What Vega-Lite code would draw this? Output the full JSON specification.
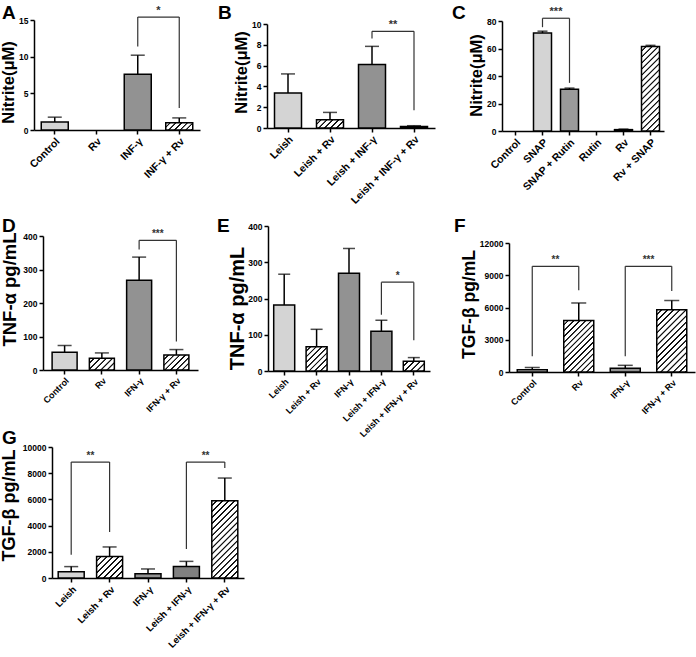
{
"$schema": "https://vega.github.io/schema/vega-lite/v6.json",
"padding": 0,
"autosize": {"type": "pad"},
"background": "white",
"columns": 3,
"spacing": 0,
"bounds": "flush",
"datasets": {
 "A": [{"g":"Control","v":1.1,"hi":1.75},{"g":"Rv","v":0},{"g":"INF-γ","v":7.6,"hi":10.2},{"g":"INF-γ + Rv","v":1.0,"hi":1.65}],
 "Ab": [{"a":"INF-γ","b":"INF-γ + Rv","y":15.4,"ya":11.4,"yb":3.0,"s":"*"}],
 "B": [{"g":"Leish","v":3.37,"hi":5.2},{"g":"Leish + Rv","v":0.8,"hi":1.5},{"g":"Leish + INF-γ","v":6.1,"hi":7.85},{"g":"Leish + INF-γ + Rv","v":0.15,"hi":0.22}],
 "Bb": [{"a":"Leish + INF-γ","b":"Leish + INF-γ + Rv","y":9.3,"ya":8.6,"yb":1.7,"s":"**"}],
 "C": [{"g":"Control","v":0},{"g":"SNAP","v":71.3,"hi":72.6},{"g":"SNAP + Rutin","v":30.3,"hi":31.2},{"g":"Rutin","v":0},{"g":"Rv","v":1.0,"hi":1.4},{"g":"Rv + SNAP","v":61.5,"hi":62.3}],
 "Cb": [{"a":"SNAP","b":"SNAP + Rutin","y":82,"ya":75.5,"yb":35,"s":"***"}],
 "D": [{"g":"Control","v":53,"hi":73},{"g":"Rv","v":35,"hi":51},{"g":"IFN-γ","v":268,"hi":337},{"g":"IFN-γ + Rv","v":45,"hi":61}],
 "Db": [{"a":"IFN-γ","b":"IFN-γ + Rv","y":387,"ya":360,"yb":85,"s":"***"}],
 "E": [{"g":"Leish","v":182,"hi":267},{"g":"Leish + Rv","v":67,"hi":115},{"g":"IFN-γ","v":270,"hi":338},{"g":"Leish + IFN-γ","v":110,"hi":140},{"g":"Leish + IFN-γ + Rv","v":27,"hi":37}],
 "Eb": [{"a":"Leish + IFN-γ","b":"Leish + IFN-γ + Rv","y":245,"ya":155,"yb":85,"s":"*"}],
 "F": [{"g":"Control","v":200,"hi":420},{"g":"Rv","v":4800,"hi":6420},{"g":"IFN-γ","v":350,"hi":620},{"g":"IFN-γ + Rv","v":5800,"hi":6650}],
 "Fb": [{"a":"Control","b":"Rv","y":9830,"ya":1460,"yb":7600,"s":"**"},{"a":"IFN-γ","b":"IFN-γ + Rv","y":9830,"ya":1460,"yb":7540,"s":"***"}],
 "G": [{"g":"Leish","v":480,"hi":870},{"g":"Leish + Rv","v":1650,"hi":2370},{"g":"IFN-γ","v":330,"hi":690},{"g":"Leish + IFN-γ","v":880,"hi":1270},{"g":"Leish + IFN-γ + Rv","v":5900,"hi":7630}],
 "Gb": [{"a":"Leish","b":"Leish + Rv","y":8850,"ya":1780,"yb":3510,"s":"**"},{"a":"Leish + IFN-γ","b":"Leish + IFN-γ + Rv","y":8850,"ya":2210,"yb":8400,"s":"**"}]
},
"concat": [
{
 "width": 232, "height": 200,
 "title": {"text": "A", "dx": 2, "offset": -23},
 "layer": [
  {"data": {"name": "A"}, "transform": [{"filter": "datum.v > 0"}],
   "mark": {"type": "bar", "width": 27, "stroke": "#000", "strokeWidth": 1.5},
   "encoding": {
    "x": {"field": "g", "type": "nominal", "scale": {"domain": ["Control","Rv","INF-γ","INF-γ + Rv"], "range": [34, 200], "paddingInner": 0, "paddingOuter": 0}, "axis": {"title": null, "labelAngle": -45, "labelFontSize": 10.5, "offset": -70}},
    "y": {"field": "v", "type": "quantitative", "scale": {"domain": [0, 15], "range": [130, 20], "nice": false, "zero": false}, "axis": {"title": "Nitrite(μM)", "values": [0,5,10,15], "tickCount": 10, "offset": -34, "titlePadding": 2, "titleY": 82}},
    "fill": {"condition": [
      {"test": "datum.g == 'INF-γ + Rv'", "value": {"gradient":"linear","x1":0,"y1":0,"x2":1.184,"y2":0.3216,"stops":[{"offset":0.1,"color":"#fff"},{"offset":0.1167,"color":"#111"},{"offset":0.15,"color":"#111"},{"offset":0.1667,"color":"#fff"},{"offset":0.2667,"color":"#fff"},{"offset":0.2833,"color":"#111"},{"offset":0.3167,"color":"#111"},{"offset":0.3333,"color":"#fff"},{"offset":0.4333,"color":"#fff"},{"offset":0.45,"color":"#111"},{"offset":0.4833,"color":"#111"},{"offset":0.5,"color":"#fff"},{"offset":0.6,"color":"#fff"},{"offset":0.6167,"color":"#111"},{"offset":0.65,"color":"#111"},{"offset":0.6667,"color":"#fff"},{"offset":0.7667,"color":"#fff"},{"offset":0.7833,"color":"#111"},{"offset":0.8167,"color":"#111"},{"offset":0.8333,"color":"#fff"},{"offset":0.9333,"color":"#fff"},{"offset":0.95,"color":"#111"},{"offset":0.9833,"color":"#111"},{"offset":1,"color":"#fff"}]}},
      {"test": "datum.g == 'INF-γ'", "value": "#929292"}], "value": "#d4d4d4"}
   }},
  {"data": {"name": "A"}, "transform": [{"filter": "isValid(datum.hi)"}], "mark": {"type": "rule", "color": "#000", "strokeWidth": 1.5}, "encoding": {"x": {"field": "g", "type": "nominal"}, "y": {"field": "v", "type": "quantitative"}, "y2": {"field": "hi"}}},
  {"data": {"name": "A"}, "transform": [{"filter": "isValid(datum.hi)"}], "mark": {"type": "tick", "color": "#000", "size": 14, "thickness": 1.5}, "encoding": {"x": {"field": "g", "type": "nominal"}, "y": {"field": "hi", "type": "quantitative"}}},
  {"data": {"name": "Ab"}, "mark": {"type": "rule", "color": "#333", "strokeWidth": 1.2}, "encoding": {"x": {"field": "a", "type": "nominal"}, "y": {"field": "ya", "type": "quantitative"}, "y2": {"field": "y"}}},
  {"data": {"name": "Ab"}, "mark": {"type": "rule", "color": "#333", "strokeWidth": 1.2}, "encoding": {"x": {"field": "b", "type": "nominal"}, "y": {"field": "yb", "type": "quantitative"}, "y2": {"field": "y"}}},
  {"data": {"name": "Ab"}, "mark": {"type": "rule", "color": "#333", "strokeWidth": 1.2}, "encoding": {"x": {"field": "a", "type": "nominal"}, "x2": {"field": "b"}, "y": {"field": "y", "type": "quantitative"}}},
  {"data": {"name": "Ab"}, "mark": {"type": "text", "color": "#333", "fontSize": 11, "fontWeight": "bold", "baseline": "alphabetic", "dy": -3}, "encoding": {"x": {"field": "a", "type": "nominal", "bandPosition": 1}, "y": {"field": "y", "type": "quantitative"}, "text": {"field": "s"}}}
 ]
},
{
 "width": 232, "height": 200,
 "title": {"text": "B", "dx": -14, "offset": -23},
 "layer": [
  {"data": {"name": "B"}, "transform": [{"filter": "datum.v > 0"}],
   "mark": {"type": "bar", "width": 27, "stroke": "#000", "strokeWidth": 1.5},
   "encoding": {
    "x": {"field": "g", "type": "nominal", "scale": {"domain": ["Leish","Leish + Rv","Leish + INF-γ","Leish + INF-γ + Rv"], "range": [35, 203], "paddingInner": 0, "paddingOuter": 0}, "axis": {"title": null, "labelAngle": -45, "labelFontSize": 10.5, "offset": -72}},
    "y": {"field": "v", "type": "quantitative", "scale": {"domain": [0, 10], "range": [128, 24], "nice": false, "zero": false}, "axis": {"title": "Nitrite(μM)", "values": [0,2,4,6,8,10], "tickCount": 10, "offset": -35, "titlePadding": 2, "titleY": 72}},
    "fill": {"condition": [
      {"test": "datum.g == 'Leish + Rv'", "value": {"gradient":"linear","x1":0,"y1":0,"x2":1.1948,"y2":0.3682,"stops":[{"offset":0.1,"color":"#fff"},{"offset":0.1167,"color":"#111"},{"offset":0.15,"color":"#111"},{"offset":0.1667,"color":"#fff"},{"offset":0.2667,"color":"#fff"},{"offset":0.2833,"color":"#111"},{"offset":0.3167,"color":"#111"},{"offset":0.3333,"color":"#fff"},{"offset":0.4333,"color":"#fff"},{"offset":0.45,"color":"#111"},{"offset":0.4833,"color":"#111"},{"offset":0.5,"color":"#fff"},{"offset":0.6,"color":"#fff"},{"offset":0.6167,"color":"#111"},{"offset":0.65,"color":"#111"},{"offset":0.6667,"color":"#fff"},{"offset":0.7667,"color":"#fff"},{"offset":0.7833,"color":"#111"},{"offset":0.8167,"color":"#111"},{"offset":0.8333,"color":"#fff"},{"offset":0.9333,"color":"#fff"},{"offset":0.95,"color":"#111"},{"offset":0.9833,"color":"#111"},{"offset":1,"color":"#fff"}]}},
      {"test": "datum.g == 'Leish + INF-γ'", "value": "#929292"},
      {"test": "datum.g == 'Leish + INF-γ + Rv'", "value": "#555"}], "value": "#d4d4d4"}
   }},
  {"data": {"name": "B"}, "transform": [{"filter": "isValid(datum.hi)"}], "mark": {"type": "rule", "color": "#000", "strokeWidth": 1.5}, "encoding": {"x": {"field": "g", "type": "nominal"}, "y": {"field": "v", "type": "quantitative"}, "y2": {"field": "hi"}}},
  {"data": {"name": "B"}, "transform": [{"filter": "isValid(datum.hi)"}], "mark": {"type": "tick", "color": "#000", "size": 14, "thickness": 1.5}, "encoding": {"x": {"field": "g", "type": "nominal"}, "y": {"field": "hi", "type": "quantitative"}}},
  {"data": {"name": "Bb"}, "mark": {"type": "rule", "color": "#333", "strokeWidth": 1.2}, "encoding": {"x": {"field": "a", "type": "nominal"}, "y": {"field": "ya", "type": "quantitative"}, "y2": {"field": "y"}}},
  {"data": {"name": "Bb"}, "mark": {"type": "rule", "color": "#333", "strokeWidth": 1.2}, "encoding": {"x": {"field": "b", "type": "nominal"}, "y": {"field": "yb", "type": "quantitative"}, "y2": {"field": "y"}}},
  {"data": {"name": "Bb"}, "mark": {"type": "rule", "color": "#333", "strokeWidth": 1.2}, "encoding": {"x": {"field": "a", "type": "nominal"}, "x2": {"field": "b"}, "y": {"field": "y", "type": "quantitative"}}},
  {"data": {"name": "Bb"}, "mark": {"type": "text", "color": "#333", "fontSize": 11, "fontWeight": "bold", "baseline": "alphabetic", "dy": -3}, "encoding": {"x": {"field": "a", "type": "nominal", "bandPosition": 1}, "y": {"field": "y", "type": "quantitative"}, "text": {"field": "s"}}}
 ]
},
{
 "width": 232, "height": 200,
 "title": {"text": "C", "dx": -12, "offset": -23},
 "layer": [
  {"data": {"name": "C"}, "transform": [{"filter": "datum.v > 0"}],
   "mark": {"type": "bar", "width": 18, "stroke": "#000", "strokeWidth": 1.5},
   "encoding": {
    "x": {"field": "g", "type": "nominal", "scale": {"domain": ["Control","SNAP","SNAP + Rutin","Rutin","Rv","Rv + SNAP"], "range": [38, 200], "paddingInner": 0, "paddingOuter": 0}, "axis": {"title": null, "labelAngle": -45, "labelFontSize": 10.5, "offset": -69}},
    "y": {"field": "v", "type": "quantitative", "scale": {"domain": [0, 80], "range": [131, 21], "nice": false, "zero": false}, "axis": {"title": "Nitrite(μM)", "values": [0,20,40,60,80], "tickCount": 10, "offset": -38, "titlePadding": 2, "titleY": 75}},
    "fill": {"condition": [
      {"test": "datum.g == 'Rv + SNAP'", "value": {"gradient":"linear","x1":0,"y1":0,"x2":0.2456,"y2":1.1598,"stops":[{"offset":0.0353,"color":"#fff"},{"offset":0.0412,"color":"#111"},{"offset":0.0529,"color":"#111"},{"offset":0.0588,"color":"#fff"},{"offset":0.0941,"color":"#fff"},{"offset":0.1,"color":"#111"},{"offset":0.1118,"color":"#111"},{"offset":0.1176,"color":"#fff"},{"offset":0.1529,"color":"#fff"},{"offset":0.1588,"color":"#111"},{"offset":0.1706,"color":"#111"},{"offset":0.1765,"color":"#fff"},{"offset":0.2118,"color":"#fff"},{"offset":0.2176,"color":"#111"},{"offset":0.2294,"color":"#111"},{"offset":0.2353,"color":"#fff"},{"offset":0.2706,"color":"#fff"},{"offset":0.2765,"color":"#111"},{"offset":0.2882,"color":"#111"},{"offset":0.2941,"color":"#fff"},{"offset":0.3294,"color":"#fff"},{"offset":0.3353,"color":"#111"},{"offset":0.3471,"color":"#111"},{"offset":0.3529,"color":"#fff"},{"offset":0.3882,"color":"#fff"},{"offset":0.3941,"color":"#111"},{"offset":0.4059,"color":"#111"},{"offset":0.4118,"color":"#fff"},{"offset":0.4471,"color":"#fff"},{"offset":0.4529,"color":"#111"},{"offset":0.4647,"color":"#111"},{"offset":0.4706,"color":"#fff"},{"offset":0.5059,"color":"#fff"},{"offset":0.5118,"color":"#111"},{"offset":0.5235,"color":"#111"},{"offset":0.5294,"color":"#fff"},{"offset":0.5647,"color":"#fff"},{"offset":0.5706,"color":"#111"},{"offset":0.5824,"color":"#111"},{"offset":0.5882,"color":"#fff"},{"offset":0.6235,"color":"#fff"},{"offset":0.6294,"color":"#111"},{"offset":0.6412,"color":"#111"},{"offset":0.6471,"color":"#fff"},{"offset":0.6824,"color":"#fff"},{"offset":0.6882,"color":"#111"},{"offset":0.7,"color":"#111"},{"offset":0.7059,"color":"#fff"},{"offset":0.7412,"color":"#fff"},{"offset":0.7471,"color":"#111"},{"offset":0.7588,"color":"#111"},{"offset":0.7647,"color":"#fff"},{"offset":0.8,"color":"#fff"},{"offset":0.8059,"color":"#111"},{"offset":0.8176,"color":"#111"},{"offset":0.8235,"color":"#fff"},{"offset":0.8588,"color":"#fff"},{"offset":0.8647,"color":"#111"},{"offset":0.8765,"color":"#111"},{"offset":0.8824,"color":"#fff"},{"offset":0.9176,"color":"#fff"},{"offset":0.9235,"color":"#111"},{"offset":0.9353,"color":"#111"},{"offset":0.9412,"color":"#fff"},{"offset":0.9765,"color":"#fff"},{"offset":0.9824,"color":"#111"},{"offset":0.9941,"color":"#111"},{"offset":1,"color":"#fff"}]}},
      {"test": "datum.g == 'SNAP + Rutin'", "value": "#9a9a9a"},
      {"test": "datum.g == 'Rv'", "value": "#999"}], "value": "#d4d4d4"}
   }},
  {"data": {"name": "C"}, "transform": [{"filter": "isValid(datum.hi)"}], "mark": {"type": "rule", "color": "#000", "strokeWidth": 1.5}, "encoding": {"x": {"field": "g", "type": "nominal"}, "y": {"field": "v", "type": "quantitative"}, "y2": {"field": "hi"}}},
  {"data": {"name": "C"}, "transform": [{"filter": "isValid(datum.hi)"}], "mark": {"type": "tick", "color": "#000", "size": 10, "thickness": 1.5}, "encoding": {"x": {"field": "g", "type": "nominal"}, "y": {"field": "hi", "type": "quantitative"}}},
  {"data": {"name": "Cb"}, "mark": {"type": "rule", "color": "#333", "strokeWidth": 1.2}, "encoding": {"x": {"field": "a", "type": "nominal"}, "y": {"field": "ya", "type": "quantitative"}, "y2": {"field": "y"}}},
  {"data": {"name": "Cb"}, "mark": {"type": "rule", "color": "#333", "strokeWidth": 1.2}, "encoding": {"x": {"field": "b", "type": "nominal"}, "y": {"field": "yb", "type": "quantitative"}, "y2": {"field": "y"}}},
  {"data": {"name": "Cb"}, "mark": {"type": "rule", "color": "#333", "strokeWidth": 1.2}, "encoding": {"x": {"field": "a", "type": "nominal"}, "x2": {"field": "b"}, "y": {"field": "y", "type": "quantitative"}}},
  {"data": {"name": "Cb"}, "mark": {"type": "text", "color": "#333", "fontSize": 11, "fontWeight": "bold", "baseline": "alphabetic", "dy": -3}, "encoding": {"x": {"field": "a", "type": "nominal", "bandPosition": 1}, "y": {"field": "y", "type": "quantitative"}, "text": {"field": "s"}}}
 ]
},
{
 "width": 232, "height": 220,
 "title": {"text": "D", "dx": 2, "offset": -36},
 "layer": [
  {"data": {"name": "D"}, "transform": [{"filter": "datum.v > 0"}],
   "mark": {"type": "bar", "width": 25, "stroke": "#000", "strokeWidth": 1.5},
   "encoding": {
    "x": {"field": "g", "type": "nominal", "scale": {"domain": ["Control","Rv","IFN-γ","IFN-γ + Rv"], "range": [43, 198], "paddingInner": 0, "paddingOuter": 0.08}, "axis": {"title": null, "labelAngle": -45, "labelFontSize": 9, "offset": -50}},
    "y": {"field": "v", "type": "quantitative", "scale": {"domain": [0, 400], "range": [170, 36], "nice": false, "zero": false}, "axis": {"title": "TNF-α pg/mL", "titleFontSize": 18.5, "values": [0,100,200,300,400], "tickCount": 10, "offset": -43, "titlePadding": 3, "titleY": 89}},
    "fill": {"condition": [
      {"test": "datum.g == 'Rv'", "value": {"gradient":"linear","x1":0,"y1":0,"x2":1.2041,"y2":0.565,"stops":[{"offset":0.1,"color":"#fff"},{"offset":0.1167,"color":"#111"},{"offset":0.15,"color":"#111"},{"offset":0.1667,"color":"#fff"},{"offset":0.2667,"color":"#fff"},{"offset":0.2833,"color":"#111"},{"offset":0.3167,"color":"#111"},{"offset":0.3333,"color":"#fff"},{"offset":0.4333,"color":"#fff"},{"offset":0.45,"color":"#111"},{"offset":0.4833,"color":"#111"},{"offset":0.5,"color":"#fff"},{"offset":0.6,"color":"#fff"},{"offset":0.6167,"color":"#111"},{"offset":0.65,"color":"#111"},{"offset":0.6667,"color":"#fff"},{"offset":0.7667,"color":"#fff"},{"offset":0.7833,"color":"#111"},{"offset":0.8167,"color":"#111"},{"offset":0.8333,"color":"#fff"},{"offset":0.9333,"color":"#fff"},{"offset":0.95,"color":"#111"},{"offset":0.9833,"color":"#111"},{"offset":1,"color":"#fff"}]}},
      {"test": "datum.g == 'IFN-γ + Rv'", "value": {"gradient":"linear","x1":0,"y1":0,"x2":1.1755,"y2":0.7091,"stops":[{"offset":0.0857,"color":"#fff"},{"offset":0.1,"color":"#111"},{"offset":0.1286,"color":"#111"},{"offset":0.1429,"color":"#fff"},{"offset":0.2286,"color":"#fff"},{"offset":0.2429,"color":"#111"},{"offset":0.2714,"color":"#111"},{"offset":0.2857,"color":"#fff"},{"offset":0.3714,"color":"#fff"},{"offset":0.3857,"color":"#111"},{"offset":0.4143,"color":"#111"},{"offset":0.4286,"color":"#fff"},{"offset":0.5143,"color":"#fff"},{"offset":0.5286,"color":"#111"},{"offset":0.5571,"color":"#111"},{"offset":0.5714,"color":"#fff"},{"offset":0.6571,"color":"#fff"},{"offset":0.6714,"color":"#111"},{"offset":0.7,"color":"#111"},{"offset":0.7143,"color":"#fff"},{"offset":0.8,"color":"#fff"},{"offset":0.8143,"color":"#111"},{"offset":0.8429,"color":"#111"},{"offset":0.8571,"color":"#fff"},{"offset":0.9429,"color":"#fff"},{"offset":0.9571,"color":"#111"},{"offset":0.9857,"color":"#111"},{"offset":1,"color":"#fff"}]}},
      {"test": "datum.g == 'IFN-γ'", "value": "#929292"}], "value": "#d4d4d4"}
   }},
  {"data": {"name": "D"}, "transform": [{"filter": "isValid(datum.hi)"}], "mark": {"type": "rule", "color": "#000", "strokeWidth": 1.5}, "encoding": {"x": {"field": "g", "type": "nominal"}, "y": {"field": "v", "type": "quantitative"}, "y2": {"field": "hi"}}},
  {"data": {"name": "D"}, "transform": [{"filter": "isValid(datum.hi)"}], "mark": {"type": "tick", "color": "#000", "size": 14, "thickness": 1.5}, "encoding": {"x": {"field": "g", "type": "nominal"}, "y": {"field": "hi", "type": "quantitative"}}},
  {"data": {"name": "Db"}, "mark": {"type": "rule", "color": "#333", "strokeWidth": 1.2}, "encoding": {"x": {"field": "a", "type": "nominal"}, "y": {"field": "ya", "type": "quantitative"}, "y2": {"field": "y"}}},
  {"data": {"name": "Db"}, "mark": {"type": "rule", "color": "#333", "strokeWidth": 1.2}, "encoding": {"x": {"field": "b", "type": "nominal"}, "y": {"field": "yb", "type": "quantitative"}, "y2": {"field": "y"}}},
  {"data": {"name": "Db"}, "mark": {"type": "rule", "color": "#333", "strokeWidth": 1.2}, "encoding": {"x": {"field": "a", "type": "nominal"}, "x2": {"field": "b"}, "y": {"field": "y", "type": "quantitative"}}},
  {"data": {"name": "Db"}, "mark": {"type": "text", "color": "#333", "fontSize": 10, "fontWeight": "bold", "baseline": "alphabetic", "dy": -3}, "encoding": {"x": {"field": "a", "type": "nominal", "bandPosition": 1}, "y": {"field": "y", "type": "quantitative"}, "text": {"field": "s"}}}
 ]
},
{
 "width": 232, "height": 220,
 "title": {"text": "E", "dx": -15, "offset": -36},
 "layer": [
  {"data": {"name": "E"}, "transform": [{"filter": "datum.v > 0"}],
   "mark": {"type": "bar", "width": 21, "stroke": "#000", "strokeWidth": 1.5},
   "encoding": {
    "x": {"field": "g", "type": "nominal", "scale": {"domain": ["Leish","Leish + Rv","IFN-γ","Leish + IFN-γ","Leish + IFN-γ + Rv"], "range": [36, 198], "paddingInner": 0, "paddingOuter": 0}, "axis": {"title": null, "labelAngle": -45, "labelFontSize": 9, "offset": -49}},
    "y": {"field": "v", "type": "quantitative", "scale": {"domain": [0, 400], "range": [171, 26], "nice": false, "zero": false}, "axis": {"title": "TNF-α pg/mL", "titleFontSize": 20, "values": [0,100,200,300,400], "tickCount": 10, "offset": -36, "titlePadding": 0, "titleY": 108}},
    "fill": {"condition": [
      {"test": "datum.g == 'Leish + Rv'", "value": {"gradient":"linear","x1":0,"y1":0,"x2":0.9225,"y2":1.067,"stops":[{"offset":0.075,"color":"#fff"},{"offset":0.0875,"color":"#111"},{"offset":0.1125,"color":"#111"},{"offset":0.125,"color":"#fff"},{"offset":0.2,"color":"#fff"},{"offset":0.2125,"color":"#111"},{"offset":0.2375,"color":"#111"},{"offset":0.25,"color":"#fff"},{"offset":0.325,"color":"#fff"},{"offset":0.3375,"color":"#111"},{"offset":0.3625,"color":"#111"},{"offset":0.375,"color":"#fff"},{"offset":0.45,"color":"#fff"},{"offset":0.4625,"color":"#111"},{"offset":0.4875,"color":"#111"},{"offset":0.5,"color":"#fff"},{"offset":0.575,"color":"#fff"},{"offset":0.5875,"color":"#111"},{"offset":0.6125,"color":"#111"},{"offset":0.625,"color":"#fff"},{"offset":0.7,"color":"#fff"},{"offset":0.7125,"color":"#111"},{"offset":0.7375,"color":"#111"},{"offset":0.75,"color":"#fff"},{"offset":0.825,"color":"#fff"},{"offset":0.8375,"color":"#111"},{"offset":0.8625,"color":"#111"},{"offset":0.875,"color":"#fff"},{"offset":0.95,"color":"#fff"},{"offset":0.9625,"color":"#111"},{"offset":0.9875,"color":"#111"},{"offset":1,"color":"#fff"}]}},
      {"test": "datum.g == 'Leish + IFN-γ + Rv'", "value": {"gradient":"linear","x1":0,"y1":0,"x2":1.2045,"y2":0.5615,"stops":[{"offset":0.12,"color":"#fff"},{"offset":0.14,"color":"#111"},{"offset":0.18,"color":"#111"},{"offset":0.2,"color":"#fff"},{"offset":0.32,"color":"#fff"},{"offset":0.34,"color":"#111"},{"offset":0.38,"color":"#111"},{"offset":0.4,"color":"#fff"},{"offset":0.52,"color":"#fff"},{"offset":0.54,"color":"#111"},{"offset":0.58,"color":"#111"},{"offset":0.6,"color":"#fff"},{"offset":0.72,"color":"#fff"},{"offset":0.74,"color":"#111"},{"offset":0.78,"color":"#111"},{"offset":0.8,"color":"#fff"},{"offset":0.92,"color":"#fff"},{"offset":0.94,"color":"#111"},{"offset":0.98,"color":"#111"},{"offset":1,"color":"#fff"}]}},
      {"test": "datum.g == 'IFN-γ' || datum.g == 'Leish + IFN-γ'", "value": "#929292"}], "value": "#d4d4d4"}
   }},
  {"data": {"name": "E"}, "transform": [{"filter": "isValid(datum.hi)"}], "mark": {"type": "rule", "color": "#000", "strokeWidth": 1.5}, "encoding": {"x": {"field": "g", "type": "nominal"}, "y": {"field": "v", "type": "quantitative"}, "y2": {"field": "hi"}}},
  {"data": {"name": "E"}, "transform": [{"filter": "isValid(datum.hi)"}], "mark": {"type": "tick", "color": "#000", "size": 12, "thickness": 1.5}, "encoding": {"x": {"field": "g", "type": "nominal"}, "y": {"field": "hi", "type": "quantitative"}}},
  {"data": {"name": "Eb"}, "mark": {"type": "rule", "color": "#333", "strokeWidth": 1.2}, "encoding": {"x": {"field": "a", "type": "nominal"}, "y": {"field": "ya", "type": "quantitative"}, "y2": {"field": "y"}}},
  {"data": {"name": "Eb"}, "mark": {"type": "rule", "color": "#333", "strokeWidth": 1.2}, "encoding": {"x": {"field": "b", "type": "nominal"}, "y": {"field": "yb", "type": "quantitative"}, "y2": {"field": "y"}}},
  {"data": {"name": "Eb"}, "mark": {"type": "rule", "color": "#333", "strokeWidth": 1.2}, "encoding": {"x": {"field": "a", "type": "nominal"}, "x2": {"field": "b"}, "y": {"field": "y", "type": "quantitative"}}},
  {"data": {"name": "Eb"}, "mark": {"type": "text", "color": "#333", "fontSize": 10, "fontWeight": "bold", "baseline": "alphabetic", "dy": -3}, "encoding": {"x": {"field": "a", "type": "nominal", "bandPosition": 1}, "y": {"field": "y", "type": "quantitative"}, "text": {"field": "s"}}}
 ]
},
{
 "width": 232, "height": 220,
 "title": {"text": "F", "dx": -10, "offset": -36},
 "layer": [
  {"data": {"name": "F"}, "transform": [{"filter": "datum.v > 0"}],
   "mark": {"type": "bar", "width": 30, "stroke": "#000", "strokeWidth": 1.5},
   "encoding": {
    "x": {"field": "g", "type": "nominal", "scale": {"domain": ["Control","Rv","IFN-γ","IFN-γ + Rv"], "range": [45, 231], "paddingInner": 0, "paddingOuter": 0}, "axis": {"title": null, "labelAngle": -45, "labelFontSize": 9, "offset": -48}},
    "y": {"field": "v", "type": "quantitative", "scale": {"domain": [0, 12000], "range": [172, 43], "nice": false, "zero": false}, "axis": {"title": "TGF-β pg/mL", "titleFontSize": 17.5, "values": [0,3000,6000,9000,12000], "tickCount": 10, "format": "d", "offset": -45, "titlePadding": 1, "titleY": 104}},
    "fill": {"condition": [
      {"test": "datum.g == 'Rv'", "value": {"gradient":"linear","x1":0,"y1":0,"x2":0.6871,"y2":1.1819,"stops":[{"offset":0.0429,"color":"#fff"},{"offset":0.05,"color":"#111"},{"offset":0.0643,"color":"#111"},{"offset":0.0714,"color":"#fff"},{"offset":0.1143,"color":"#fff"},{"offset":0.1214,"color":"#111"},{"offset":0.1357,"color":"#111"},{"offset":0.1429,"color":"#fff"},{"offset":0.1857,"color":"#fff"},{"offset":0.1929,"color":"#111"},{"offset":0.2071,"color":"#111"},{"offset":0.2143,"color":"#fff"},{"offset":0.2571,"color":"#fff"},{"offset":0.2643,"color":"#111"},{"offset":0.2786,"color":"#111"},{"offset":0.2857,"color":"#fff"},{"offset":0.3286,"color":"#fff"},{"offset":0.3357,"color":"#111"},{"offset":0.35,"color":"#111"},{"offset":0.3571,"color":"#fff"},{"offset":0.4,"color":"#fff"},{"offset":0.4071,"color":"#111"},{"offset":0.4214,"color":"#111"},{"offset":0.4286,"color":"#fff"},{"offset":0.4714,"color":"#fff"},{"offset":0.4786,"color":"#111"},{"offset":0.4929,"color":"#111"},{"offset":0.5,"color":"#fff"},{"offset":0.5429,"color":"#fff"},{"offset":0.55,"color":"#111"},{"offset":0.5643,"color":"#111"},{"offset":0.5714,"color":"#fff"},{"offset":0.6143,"color":"#fff"},{"offset":0.6214,"color":"#111"},{"offset":0.6357,"color":"#111"},{"offset":0.6429,"color":"#fff"},{"offset":0.6857,"color":"#fff"},{"offset":0.6929,"color":"#111"},{"offset":0.7071,"color":"#111"},{"offset":0.7143,"color":"#fff"},{"offset":0.7571,"color":"#fff"},{"offset":0.7643,"color":"#111"},{"offset":0.7786,"color":"#111"},{"offset":0.7857,"color":"#fff"},{"offset":0.8286,"color":"#fff"},{"offset":0.8357,"color":"#111"},{"offset":0.85,"color":"#111"},{"offset":0.8571,"color":"#fff"},{"offset":0.9,"color":"#fff"},{"offset":0.9071,"color":"#111"},{"offset":0.9214,"color":"#111"},{"offset":0.9286,"color":"#fff"},{"offset":0.9714,"color":"#fff"},{"offset":0.9786,"color":"#111"},{"offset":0.9929,"color":"#111"},{"offset":1,"color":"#fff"}]}},
      {"test": "datum.g == 'IFN-γ + Rv'", "value": {"gradient":"linear","x1":0,"y1":0,"x2":0.5787,"y2":1.2027,"stops":[{"offset":0.04,"color":"#fff"},{"offset":0.0467,"color":"#111"},{"offset":0.06,"color":"#111"},{"offset":0.0667,"color":"#fff"},{"offset":0.1067,"color":"#fff"},{"offset":0.1133,"color":"#111"},{"offset":0.1267,"color":"#111"},{"offset":0.1333,"color":"#fff"},{"offset":0.1733,"color":"#fff"},{"offset":0.18,"color":"#111"},{"offset":0.1933,"color":"#111"},{"offset":0.2,"color":"#fff"},{"offset":0.24,"color":"#fff"},{"offset":0.2467,"color":"#111"},{"offset":0.26,"color":"#111"},{"offset":0.2667,"color":"#fff"},{"offset":0.3067,"color":"#fff"},{"offset":0.3133,"color":"#111"},{"offset":0.3267,"color":"#111"},{"offset":0.3333,"color":"#fff"},{"offset":0.3733,"color":"#fff"},{"offset":0.38,"color":"#111"},{"offset":0.3933,"color":"#111"},{"offset":0.4,"color":"#fff"},{"offset":0.44,"color":"#fff"},{"offset":0.4467,"color":"#111"},{"offset":0.46,"color":"#111"},{"offset":0.4667,"color":"#fff"},{"offset":0.5067,"color":"#fff"},{"offset":0.5133,"color":"#111"},{"offset":0.5267,"color":"#111"},{"offset":0.5333,"color":"#fff"},{"offset":0.5733,"color":"#fff"},{"offset":0.58,"color":"#111"},{"offset":0.5933,"color":"#111"},{"offset":0.6,"color":"#fff"},{"offset":0.64,"color":"#fff"},{"offset":0.6467,"color":"#111"},{"offset":0.66,"color":"#111"},{"offset":0.6667,"color":"#fff"},{"offset":0.7067,"color":"#fff"},{"offset":0.7133,"color":"#111"},{"offset":0.7267,"color":"#111"},{"offset":0.7333,"color":"#fff"},{"offset":0.7733,"color":"#fff"},{"offset":0.78,"color":"#111"},{"offset":0.7933,"color":"#111"},{"offset":0.8,"color":"#fff"},{"offset":0.84,"color":"#fff"},{"offset":0.8467,"color":"#111"},{"offset":0.86,"color":"#111"},{"offset":0.8667,"color":"#fff"},{"offset":0.9067,"color":"#fff"},{"offset":0.9133,"color":"#111"},{"offset":0.9267,"color":"#111"},{"offset":0.9333,"color":"#fff"},{"offset":0.9733,"color":"#fff"},{"offset":0.98,"color":"#111"},{"offset":0.9933,"color":"#111"},{"offset":1,"color":"#fff"}]}},
      {"test": "datum.g == 'IFN-γ'", "value": "#929292"}], "value": "#d4d4d4"}
   }},
  {"data": {"name": "F"}, "transform": [{"filter": "isValid(datum.hi)"}], "mark": {"type": "rule", "color": "#000", "strokeWidth": 1.5}, "encoding": {"x": {"field": "g", "type": "nominal"}, "y": {"field": "v", "type": "quantitative"}, "y2": {"field": "hi"}}},
  {"data": {"name": "F"}, "transform": [{"filter": "isValid(datum.hi)"}], "mark": {"type": "tick", "color": "#000", "size": 15, "thickness": 1.5}, "encoding": {"x": {"field": "g", "type": "nominal"}, "y": {"field": "hi", "type": "quantitative"}}},
  {"data": {"name": "Fb"}, "mark": {"type": "rule", "color": "#333", "strokeWidth": 1.2}, "encoding": {"x": {"field": "a", "type": "nominal"}, "y": {"field": "ya", "type": "quantitative"}, "y2": {"field": "y"}}},
  {"data": {"name": "Fb"}, "mark": {"type": "rule", "color": "#333", "strokeWidth": 1.2}, "encoding": {"x": {"field": "b", "type": "nominal"}, "y": {"field": "yb", "type": "quantitative"}, "y2": {"field": "y"}}},
  {"data": {"name": "Fb"}, "mark": {"type": "rule", "color": "#333", "strokeWidth": 1.2}, "encoding": {"x": {"field": "a", "type": "nominal"}, "x2": {"field": "b"}, "y": {"field": "y", "type": "quantitative"}}},
  {"data": {"name": "Fb"}, "mark": {"type": "text", "color": "#333", "fontSize": 10, "fontWeight": "bold", "baseline": "alphabetic", "dy": -3}, "encoding": {"x": {"field": "a", "type": "nominal", "bandPosition": 1}, "y": {"field": "y", "type": "quantitative"}, "text": {"field": "s"}}}
 ]
},
{
 "width": 232, "height": 237,
 "title": {"text": "G", "dx": 2, "offset": -28},
 "layer": [
  {"data": {"name": "G"}, "transform": [{"filter": "datum.v > 0"}],
   "mark": {"type": "bar", "width": 26, "stroke": "#000", "strokeWidth": 1.5},
   "encoding": {
    "x": {"field": "g", "type": "nominal", "scale": {"domain": ["Leish","Leish + Rv","IFN-γ","Leish + IFN-γ","Leish + IFN-γ + Rv"], "range": [52, 244], "paddingInner": 0, "paddingOuter": 0}, "axis": {"title": null, "labelAngle": -45, "labelFontSize": 9.5, "offset": -79}},
    "y": {"field": "v", "type": "quantitative", "scale": {"domain": [0, 10000], "range": [158, 27], "nice": false, "zero": false}, "axis": {"title": "TGF-β pg/mL", "titleFontSize": 18, "values": [0,2000,4000,6000,8000,10000], "tickCount": 10, "format": "d", "offset": -52, "titlePadding": 4, "titleY": 85}},
    "fill": {"condition": [
      {"test": "datum.g == 'Leish + Rv'", "value": {"gradient":"linear","x1":0,"y1":0,"x2":1.0832,"y2":0.8999,"stops":[{"offset":0.075,"color":"#fff"},{"offset":0.0875,"color":"#111"},{"offset":0.1125,"color":"#111"},{"offset":0.125,"color":"#fff"},{"offset":0.2,"color":"#fff"},{"offset":0.2125,"color":"#111"},{"offset":0.2375,"color":"#111"},{"offset":0.25,"color":"#fff"},{"offset":0.325,"color":"#fff"},{"offset":0.3375,"color":"#111"},{"offset":0.3625,"color":"#111"},{"offset":0.375,"color":"#fff"},{"offset":0.45,"color":"#fff"},{"offset":0.4625,"color":"#111"},{"offset":0.4875,"color":"#111"},{"offset":0.5,"color":"#fff"},{"offset":0.575,"color":"#fff"},{"offset":0.5875,"color":"#111"},{"offset":0.6125,"color":"#111"},{"offset":0.625,"color":"#fff"},{"offset":0.7,"color":"#fff"},{"offset":0.7125,"color":"#111"},{"offset":0.7375,"color":"#111"},{"offset":0.75,"color":"#fff"},{"offset":0.825,"color":"#fff"},{"offset":0.8375,"color":"#111"},{"offset":0.8625,"color":"#111"},{"offset":0.875,"color":"#fff"},{"offset":0.95,"color":"#fff"},{"offset":0.9625,"color":"#111"},{"offset":0.9875,"color":"#111"},{"offset":1,"color":"#fff"}]}},
      {"test": "datum.g == 'Leish + IFN-γ + Rv'", "value": {"gradient":"linear","x1":0,"y1":0,"x2":0.4038,"y2":1.2006,"stops":[{"offset":0.0353,"color":"#fff"},{"offset":0.0412,"color":"#111"},{"offset":0.0529,"color":"#111"},{"offset":0.0588,"color":"#fff"},{"offset":0.0941,"color":"#fff"},{"offset":0.1,"color":"#111"},{"offset":0.1118,"color":"#111"},{"offset":0.1176,"color":"#fff"},{"offset":0.1529,"color":"#fff"},{"offset":0.1588,"color":"#111"},{"offset":0.1706,"color":"#111"},{"offset":0.1765,"color":"#fff"},{"offset":0.2118,"color":"#fff"},{"offset":0.2176,"color":"#111"},{"offset":0.2294,"color":"#111"},{"offset":0.2353,"color":"#fff"},{"offset":0.2706,"color":"#fff"},{"offset":0.2765,"color":"#111"},{"offset":0.2882,"color":"#111"},{"offset":0.2941,"color":"#fff"},{"offset":0.3294,"color":"#fff"},{"offset":0.3353,"color":"#111"},{"offset":0.3471,"color":"#111"},{"offset":0.3529,"color":"#fff"},{"offset":0.3882,"color":"#fff"},{"offset":0.3941,"color":"#111"},{"offset":0.4059,"color":"#111"},{"offset":0.4118,"color":"#fff"},{"offset":0.4471,"color":"#fff"},{"offset":0.4529,"color":"#111"},{"offset":0.4647,"color":"#111"},{"offset":0.4706,"color":"#fff"},{"offset":0.5059,"color":"#fff"},{"offset":0.5118,"color":"#111"},{"offset":0.5235,"color":"#111"},{"offset":0.5294,"color":"#fff"},{"offset":0.5647,"color":"#fff"},{"offset":0.5706,"color":"#111"},{"offset":0.5824,"color":"#111"},{"offset":0.5882,"color":"#fff"},{"offset":0.6235,"color":"#fff"},{"offset":0.6294,"color":"#111"},{"offset":0.6412,"color":"#111"},{"offset":0.6471,"color":"#fff"},{"offset":0.6824,"color":"#fff"},{"offset":0.6882,"color":"#111"},{"offset":0.7,"color":"#111"},{"offset":0.7059,"color":"#fff"},{"offset":0.7412,"color":"#fff"},{"offset":0.7471,"color":"#111"},{"offset":0.7588,"color":"#111"},{"offset":0.7647,"color":"#fff"},{"offset":0.8,"color":"#fff"},{"offset":0.8059,"color":"#111"},{"offset":0.8176,"color":"#111"},{"offset":0.8235,"color":"#fff"},{"offset":0.8588,"color":"#fff"},{"offset":0.8647,"color":"#111"},{"offset":0.8765,"color":"#111"},{"offset":0.8824,"color":"#fff"},{"offset":0.9176,"color":"#fff"},{"offset":0.9235,"color":"#111"},{"offset":0.9353,"color":"#111"},{"offset":0.9412,"color":"#fff"},{"offset":0.9765,"color":"#fff"},{"offset":0.9824,"color":"#111"},{"offset":0.9941,"color":"#111"},{"offset":1,"color":"#fff"}]}},
      {"test": "datum.g == 'IFN-γ'", "value": "#929292"},
      {"test": "datum.g == 'Leish + IFN-γ'", "value": "#808080"}], "value": "#d4d4d4"}
   }},
  {"data": {"name": "G"}, "transform": [{"filter": "isValid(datum.hi)"}], "mark": {"type": "rule", "color": "#000", "strokeWidth": 1.5}, "encoding": {"x": {"field": "g", "type": "nominal"}, "y": {"field": "v", "type": "quantitative"}, "y2": {"field": "hi"}}},
  {"data": {"name": "G"}, "transform": [{"filter": "isValid(datum.hi)"}], "mark": {"type": "tick", "color": "#000", "size": 14, "thickness": 1.5}, "encoding": {"x": {"field": "g", "type": "nominal"}, "y": {"field": "hi", "type": "quantitative"}}},
  {"data": {"name": "Gb"}, "mark": {"type": "rule", "color": "#333", "strokeWidth": 1.2}, "encoding": {"x": {"field": "a", "type": "nominal"}, "y": {"field": "ya", "type": "quantitative"}, "y2": {"field": "y"}}},
  {"data": {"name": "Gb"}, "mark": {"type": "rule", "color": "#333", "strokeWidth": 1.2}, "encoding": {"x": {"field": "b", "type": "nominal"}, "y": {"field": "yb", "type": "quantitative"}, "y2": {"field": "y"}}},
  {"data": {"name": "Gb"}, "mark": {"type": "rule", "color": "#333", "strokeWidth": 1.2}, "encoding": {"x": {"field": "a", "type": "nominal"}, "x2": {"field": "b"}, "y": {"field": "y", "type": "quantitative"}}},
  {"data": {"name": "Gb"}, "mark": {"type": "text", "color": "#333", "fontSize": 10, "fontWeight": "bold", "baseline": "alphabetic", "dy": -3}, "encoding": {"x": {"field": "a", "type": "nominal", "bandPosition": 1}, "y": {"field": "y", "type": "quantitative"}, "text": {"field": "s"}}}
 ]
}
],
"config": {
 "view": {"stroke": null},
 "font": "Liberation Sans",
 "axis": {"grid": false, "labelOverlap": false, "domainColor": "#000", "domainWidth": 1.5, "tickColor": "#000", "tickWidth": 1.5, "tickSize": 4, "labelColor": "#000", "labelFont": "Liberation Sans", "labelFontWeight": "bold", "labelFontSize": 8.5, "labelPadding": 2, "titleColor": "#000", "titleFont": "Liberation Sans", "titleFontWeight": "bold", "titleFontSize": 16.5},
 "title": {"font": "Liberation Sans", "fontSize": 19, "fontWeight": "bold", "anchor": "start", "frame": "group", "baseline": "alphabetic", "color": "#000"}
}
}
